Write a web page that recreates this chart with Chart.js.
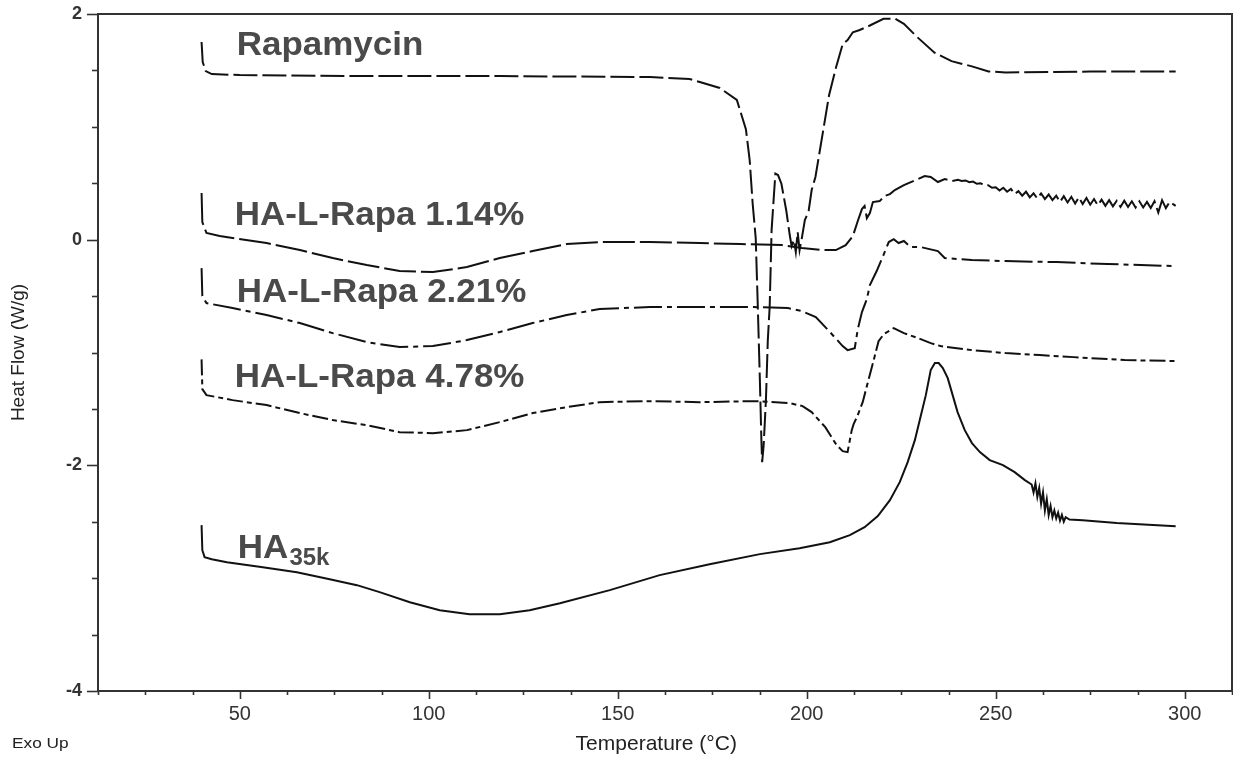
<!DOCTYPE html>
<html><head><meta charset="utf-8">
<script src="https://cdn.jsdelivr.net/npm/chart.js@4.4.0/dist/chart.umd.min.js"></script>
<style>html,body{margin:0;padding:0;background:#fff;}#wrap{width:1233px;height:759px;}</style>
</head><body><div id="wrap"><canvas id="c" width="1233" height="759"></canvas></div>
<script>
// ---- data (Temperature °C, Heat Flow W/g) ----
const rapaT = [39.9,40.2,41.0,42.6,50.0,79.1,118.8,158.5,169.0,171.7,177.0,181.5,183.9,184.9,185.7,186.5,187.0,187.6,188.0,188.2,188.6,189.2,189.7,190.2,190.7,191.7,192.4,193.3,194.6,195.5,196.0,196.6,197.1,197.6,198.1,198.7,199.5,200.5,201.3,202.3,204.1,205.9,207.7,209.5,210.8,212.2,214.0,216.7,220.3,223.4,225.7,229.3,233.8,238.3,243.7,248.1,252.6,264.3,274.9,285.4,297.6];
const rapaV = [1.752,1.574,1.494,1.468,1.459,1.450,1.450,1.441,1.424,1.397,1.344,1.238,0.980,0.706,0.316,0.014,-0.535,-1.245,-1.777,-1.972,-1.821,-1.422,-0.890,-0.590,0.085,0.586,0.573,0.496,0.254,0.041,-0.057,-0.004,-0.110,0.067,-0.092,0.014,0.174,0.254,0.440,0.556,0.918,1.280,1.521,1.732,1.769,1.838,1.858,1.898,1.958,1.958,1.913,1.793,1.657,1.582,1.536,1.491,1.482,1.486,1.490,1.491,1.491];

const ha114T = [39.9,40.1,41.2,44.7,48.1,57.1,65.9,74.6,83.6,92.3,101.1,110.1,118.8,127.5,136.5,145.2,158.5,171.7,182.5,193.4,198.7,204.0,207.7,210.3,212.2,213.5,214.6,215.3,215.9,216.7,217.5,219.3,220.6,222.0,223.3,225.7,229.4,231.2,232.8,234.7,236.5,238.5,
  240,241,242,243,244,245,246,247,248,249,250,251,252,253,254,255,256,257,258,259,260,261,262,263,264,265,266,267,268,269,270,271,272,273,274,275,276,277,278,279,280,281,282,283,284,285,286,287,288,289,290,291,292,293,294,295,296,297.6];
const ha114V = [0.413,0.156,0.059,0.032,0.014,-0.030,-0.092,-0.163,-0.225,-0.278,-0.287,-0.243,-0.163,-0.101,-0.039,-0.021,-0.021,-0.030,-0.039,-0.048,-0.074,-0.092,-0.092,-0.048,0.032,0.165,0.271,0.298,0.191,0.236,0.333,0.342,0.387,0.404,0.440,0.484,0.537,0.564,0.555,0.511,0.537,0.520,
  0.530,0.520,0.525,0.510,0.515,0.495,0.500,0.480,0.482,0.460,0.465,0.435,0.460,0.425,0.450,0.405,0.430,0.390,0.425,0.375,0.410,0.365,0.410,0.360,0.400,0.350,0.390,0.335,0.385,0.330,0.380,0.320,0.375,0.315,0.370,0.310,0.360,0.305,0.355,0.300,0.350,0.295,0.345,0.290,0.345,0.290,0.340,0.285,0.340,0.285,0.335,0.280,0.340,0.240,0.350,0.280,0.335,0.300];

const ha221T = [39.9,40.1,41.2,48.1,57.1,65.9,74.6,83.6,92.3,101.1,110.1,118.8,127.5,136.5,145.2,158.5,171.7,186.0,195.0,198.7,202.4,205.9,209.5,210.8,212.7,213.5,214.6,215.9,216.7,218.5,220.4,221.7,223.0,224.3,225.7,227.5,230.2,234.7,236.5,243.7,252.6,266.1,279.6,297.6];
const ha221V = [-0.252,-0.500,-0.562,-0.606,-0.668,-0.739,-0.828,-0.908,-0.952,-0.943,-0.890,-0.819,-0.739,-0.668,-0.615,-0.597,-0.597,-0.597,-0.606,-0.633,-0.686,-0.810,-0.943,-0.979,-0.961,-0.793,-0.642,-0.527,-0.402,-0.278,-0.128,-0.021,0.005,-0.030,-0.012,-0.066,-0.066,-0.101,-0.163,-0.181,-0.190,-0.199,-0.216,-0.234];

const ha478T = [39.9,40.1,41.2,48.1,57.1,65.9,74.6,83.6,92.3,101.1,110.1,118.8,127.5,136.5,145.2,158.5,171.7,186.5,195.5,198.9,201.3,204.9,207.9,209.5,210.8,211.9,212.4,213.5,214.8,215.9,217.5,219.0,220.4,223.0,225.7,229.4,232.8,235.4,243.7,252.6,261.6,270.6,284.1,297.6];
const ha478V = [-1.061,-1.324,-1.378,-1.422,-1.466,-1.537,-1.599,-1.644,-1.706,-1.715,-1.688,-1.617,-1.537,-1.484,-1.440,-1.431,-1.440,-1.431,-1.449,-1.475,-1.528,-1.662,-1.821,-1.874,-1.883,-1.688,-1.635,-1.555,-1.440,-1.298,-1.095,-0.900,-0.837,-0.784,-0.828,-0.872,-0.917,-0.943,-0.979,-1.005,-1.023,-1.041,-1.067,-1.076];

const ha35T = [39.9,40.1,40.7,42.6,46.6,56.1,65.1,73.8,81.0,87.0,95.0,102.9,110.8,118.8,126.7,134.7,147.9,161.1,174.3,187.6,198.1,206.1,211.4,215.3,218.8,222.0,224.6,226.7,228.6,229.9,231.5,232.8,233.9,234.9,236.0,237.3,238.6,239.9,241.8,243.7,245.8,248.4,251.9,255.0,257.7,259.5,260,260.5,261,261.5,262,262.5,263,263.5,264,264.5,265,265.5,266,266.5,267,267.5,268,268.5,269.5,273.0,282.0,297.6];
const ha35V = [-2.530,-2.752,-2.814,-2.832,-2.859,-2.903,-2.947,-3.009,-3.062,-3.124,-3.213,-3.284,-3.319,-3.319,-3.284,-3.222,-3.106,-2.973,-2.876,-2.787,-2.734,-2.681,-2.619,-2.548,-2.450,-2.309,-2.149,-1.972,-1.777,-1.599,-1.378,-1.156,-1.094,-1.094,-1.138,-1.227,-1.378,-1.528,-1.688,-1.803,-1.883,-1.954,-1.998,-2.060,-2.131,-2.17,-2.24,-2.16,-2.28,-2.20,-2.34,-2.24,-2.40,-2.30,-2.44,-2.36,-2.46,-2.40,-2.47,-2.42,-2.49,-2.44,-2.50,-2.46,-2.48,-2.486,-2.512,-2.539];

const seriesNames = ['Rapamycin','HA-L-Rapa 1.14%','HA-L-Rapa 2.21%','HA-L-Rapa 4.78%','HA'];
const seriesSub   = ['','','','','35k'];
const labelT = [49.2,48.7,49.2,48.7,49.5];
const labelV = [1.637,0.129,-0.553,-1.307,-2.823];

const xMajorLabels = [50,100,150,200,250,300];
const yMajorLabels = [-4,-2,0,2];

// ---- build ----
function pts(T,V){ const n=Math.min(T.length,V.length); const o=[]; for(let i=0;i<n;i++) o.push({x:T[i],y:V[i]}); return o; }
const FONT='"Liberation Sans", Arial, Helvetica, sans-serif';
const lineCol='#111';
function ds(label,T,V,dash){ return {label, data:pts(T,V), borderColor:lineCol, borderWidth:2, borderDash:dash, pointRadius:0, tension:0, fill:false}; }
function zeroPad(s){ s.paddingLeft=0; s.paddingRight=0; s.paddingTop=0; s.paddingBottom=0; }
function stretchText(ctx,text,px,py,sx){ ctx.save(); ctx.translate(px,py); ctx.scale(sx,1); ctx.fillText(text,0,0); ctx.restore(); return ctx.measureText(text).width*sx; }

const decor = {
  id:'decor',
  afterDraw(chart){
    const {ctx, chartArea:a, scales:{x,y}} = chart;
    ctx.save();
    ctx.strokeStyle='#333'; ctx.lineWidth=2;
    ctx.strokeRect(a.left, a.top, a.right-a.left, a.bottom-a.top);
    ctx.lineWidth=1.6;
    x.ticks.forEach(t=>{
      const px=Math.round(x.getPixelForValue(t.value))+0.5;
      const major=xMajorLabels.includes(t.value);
      ctx.beginPath(); ctx.moveTo(px,a.bottom); ctx.lineTo(px,a.bottom+(major?8:4)); ctx.stroke();
    });
    y.ticks.forEach(t=>{
      const py=Math.round(y.getPixelForValue(t.value))+0.5;
      const major=yMajorLabels.includes(t.value);
      ctx.beginPath(); ctx.moveTo(a.left,py); ctx.lineTo(a.left-(major?11:6),py); ctx.stroke();
    });
    ctx.fillStyle='#4a4a4a'; ctx.textAlign='left'; ctx.textBaseline='alphabetic';
    seriesNames.forEach((name,i)=>{
      const px=x.getPixelForValue(labelT[i]), py=y.getPixelForValue(labelV[i]);
      ctx.font='bold 33px '+FONT;
      const w=stretchText(ctx,name,px,py,1.06);
      if(seriesSub[i]){
        ctx.font='bold 24px '+FONT;
        stretchText(ctx,seriesSub[i],px+w+1,py+7,1.0);
      }
    });
    ctx.fillStyle='#222'; ctx.font='15px '+FONT;
    stretchText(ctx,'Exo Up',12,748,1.15);
    ctx.restore();
  }
};

new Chart(document.getElementById('c'),{
  type:'line',
  data:{datasets:[
    ds(seriesNames[0],rapaT,rapaV,[24,5]),
    ds(seriesNames[1],ha114T,ha114V,[32,5]),
    ds(seriesNames[2],ha221T,ha221V,[28,5,5,5]),
    ds(seriesNames[3],ha478T,ha478V,[16,4,5,4]),
    ds(seriesNames[4]+seriesSub[4],ha35T,ha35V,[])
  ]},
  options:{
    responsive:false, animation:false,
    layout:{padding:{top:14,right:1,left:0,bottom:0}},
    plugins:{legend:{display:false},tooltip:{enabled:false}},
    scales:{
      x:{type:'linear',min:12.5,max:312.5,
        grid:{display:true,drawOnChartArea:false,drawTicks:false},
        border:{display:false},
        ticks:{stepSize:12.5,autoSkip:false,maxRotation:0,padding:11,color:'#333',font:{family:FONT,size:20},
          callback:v=>xMajorLabels.includes(v)?String(v):''},
        title:{display:true,text:'Temperature (°C)\u00A0\u00A0\u00A0',color:'#222',font:{family:FONT,size:21},padding:{top:0,bottom:2}},
        afterFit:s=>{s.height=68; zeroPad(s);}
      },
      y:{type:'linear',min:-4,max:2,
        grid:{display:true,drawOnChartArea:false,drawTicks:false},
        border:{display:false},
        ticks:{stepSize:0.5,autoSkip:false,padding:16,color:'#333',font:{family:FONT,size:18,weight:'bold'},
          callback:v=>yMajorLabels.includes(v)?String(v):''},
        title:{display:true,text:'Heat Flow (W/g)',color:'#222',font:{family:FONT,size:19},padding:{top:7,bottom:0}},
        afterFit:s=>{s.width=98; zeroPad(s);}
      }
    }
  },
  plugins:[decor]
});
</script></body></html>
